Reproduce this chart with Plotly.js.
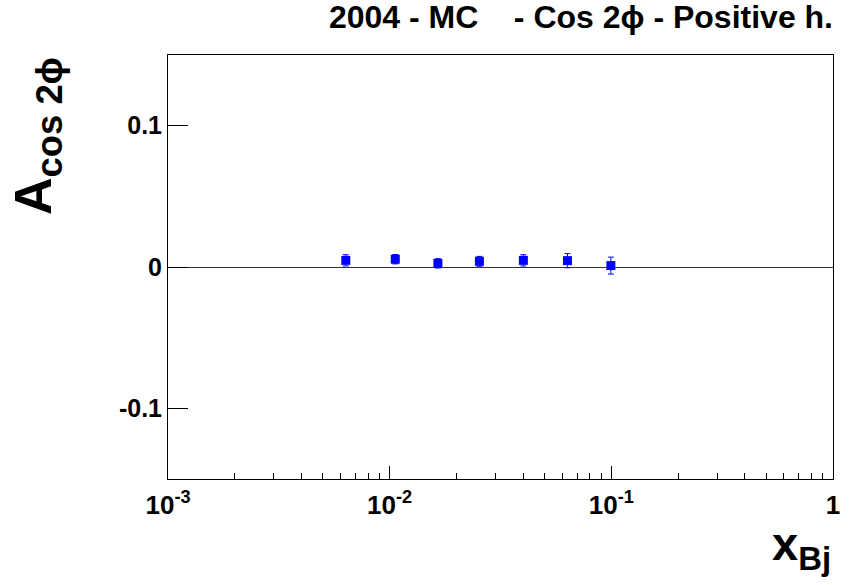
<!DOCTYPE html>
<html>
<head>
<meta charset="utf-8">
<script src="https://cdn.plot.ly/plotly-3.0.1.min.js"></script>
<style>html,body{margin:0;padding:0;background:#fff;}#chart{width:856px;height:585px;}</style>
</head>
<body>
<div id="chart"></div>
<script>
// Data
const xBj = [0.00634, 0.0106, 0.0165, 0.0254, 0.0401, 0.0634, 0.0995];
const asym = [0.0047, 0.0055, 0.0026, 0.0040, 0.0047, 0.0045, 0.0010];
const asymErr = [0.0040, 0.0033, 0.0033, 0.0035, 0.0040, 0.0050, 0.0060];
const xTickVals = [0.001, 0.01, 0.1, 1];
const xTickText = ['10<sup>-3</sup>', '10<sup>-2</sup>', '10<sup>-1</sup>', '1'];
const yTickVals = [-0.1, 0, 0.1];
const yTickText = ['-0.1', '0', '0.1'];
const titleText = '2004 - MC\u00A0\u00A0\u00A0 - Cos 2\u03D5 - Positive h.';

const minorVals = [];
for (let e = -3; e < 0; e++) {
  for (let m = 2; m <= 9; m++) minorVals.push(m * Math.pow(10, e));
}

const FONT = 'Liberation Sans, Arial, Helvetica, sans-serif';

const trace = {
  type: 'scatter',
  mode: 'markers',
  x: xBj,
  y: asym,
  marker: {symbol: 'square', size: 9, color: '#0000ff'},
  error_y: {type: 'data', array: asymErr, visible: true, color: '#0000ff', thickness: 1, width: 3},
  showlegend: false,
  hoverinfo: 'x+y'
};

const layout = {
  width: 856,
  height: 585,
  paper_bgcolor: '#ffffff',
  plot_bgcolor: '#ffffff',
  margin: {l: 168, r: 23, t: 55, b: 106, pad: 0},
  font: {family: FONT, color: '#000', size: 24, weight: 'bold'},
  title: {
    text: titleText,
    font: {family: FONT, size: 32, color: '#000', weight: 'bold'},
    xref: 'paper', x: 1, xanchor: 'right',
    yref: 'container', y: 1 - 6/585, yanchor: 'top'
  },
  xaxis: {
    type: 'log',
    range: [-3, 0],
    tickmode: 'array',
    tickvals: xTickVals,
    ticktext: xTickText,
    ticks: 'inside',
    ticklen: 13,
    tickwidth: 1,
    tickcolor: '#000',
    ticklabelstandoff: 3,
    minor: {tickmode: 'array', tickvals: minorVals, ticks: 'inside', ticklen: 6, tickwidth: 1, tickcolor: '#000', showgrid: false},
    showline: true, linecolor: '#000', linewidth: 1, mirror: true,
    showgrid: false, zeroline: false,
    tickfont: {family: FONT, size: 26, color: '#000', weight: 'bold'}
  },
  yaxis: {
    range: [-0.15, 0.15],
    tickmode: 'array',
    tickvals: yTickVals,
    ticktext: yTickText,
    ticks: 'inside',
    ticklen: 20,
    tickwidth: 1,
    tickcolor: '#000',
    showline: true, linecolor: '#000', linewidth: 1, mirror: true,
    showgrid: false,
    zeroline: true, zerolinecolor: '#333', zerolinewidth: 1,
    tickfont: {family: FONT, size: 25, color: '#000', weight: 'bold'}
  },
  annotations: [
    {
      text: 'x<sub>Bj</sub>',
      xref: 'paper', yref: 'paper',
      x: 1, xanchor: 'right',
      y: -0.085, yanchor: 'top',
      showarrow: false,
      font: {family: FONT, size: 47, color: '#000', weight: 'bold'}
    },
    {
      text: 'A<sub>cos 2\u03D5</sub>',
      xref: 'paper', yref: 'paper',
      x: -0.197, xanchor: 'center',
      y: 1.0, yanchor: 'top',
      textangle: -90,
      showarrow: false,
      font: {family: FONT, size: 52, color: '#000', weight: 'bold'}
    }
  ]
};

Plotly.newPlot('chart', [trace], layout, {displayModeBar: false, staticPlot: true});
</script>
</body>
</html>
